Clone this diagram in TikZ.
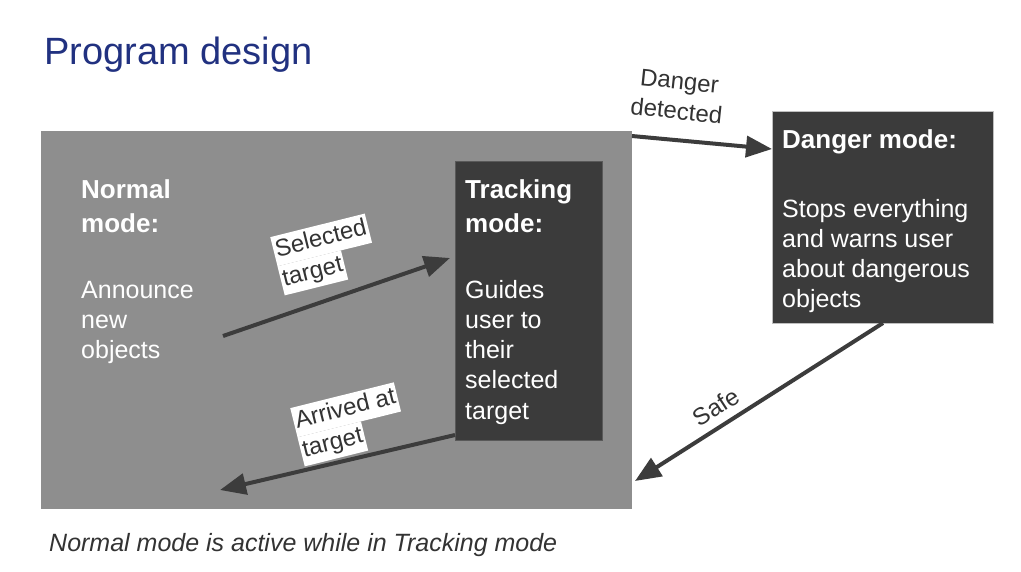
\documentclass[tikz,border=0pt]{standalone}
\usepackage{fontspec}
\setmainfont{Liberation Sans}
\usetikzlibrary{arrows.meta}
\definecolor{titleblue}{RGB}{33,49,128}
\definecolor{areagray}{RGB}{142,142,142}
\definecolor{boxdark}{RGB}{59,59,59}
\definecolor{arrowdark}{RGB}{60,60,60}
\definecolor{labeltext}{RGB}{51,51,51}
\newcommand\wbox[1]{{\setlength\fboxsep{0pt}\colorbox{white}{\hspace{2pt}\strut#1\hspace{2pt}}}}
\newcommand\blk[1]{\parbox[t]{220pt}{\raggedright #1}}
\tikzset{
  area/.style={fill=areagray, draw=none, inner sep=0},
  darkbox/.style={fill=boxdark, draw=black!65, line width=0.8pt, inner sep=0},
  hdr/.style={text=white, inner sep=0, anchor=base west, font=\fontsize{26}{34}\selectfont\bfseries},
  bodytxt/.style={text=white, inner sep=0, anchor=base west, font=\fontsize{25}{30.3}\selectfont},
  conn/.style={draw=arrowdark, line width=4pt, -{Triangle[length=26pt,width=21pt]}},
  wlabel/.style={text=labeltext, inner sep=0, align=left, font=\fontsize{24}{30}\selectfont},
  plabel/.style={text=labeltext, inner sep=0, align=center, font=\fontsize{24}{30}\selectfont}
}
\begin{document}
\begin{tikzpicture}[x=1pt,y=-1pt]
\useasboundingbox (0,0) rectangle (1021,571);
\fill[white] (0,0) rectangle (1021,571);

\node[anchor=base west, inner sep=0, text=titleblue, font=\fontsize{38}{44}\selectfont] (title) at (44,64) {Program design};

% normal mode area
\node[area, minimum width=591pt, minimum height=378pt] (nrm) at (336.5,320) {};
\node[hdr] (nrmhd) at (81,198) {\blk{Normal\\mode:}};
\node[bodytxt] (nrmbd) at (81,298) {\blk{Announce\\new\\objects}};

% tracking mode
\node[darkbox, minimum width=147pt, minimum height=279pt] (trk) at (528.5,300.5) {};
\node[hdr] (trkhd) at (465,198) {\blk{Tracking\\mode:}};
\node[bodytxt] (trkbd) at (465,298) {\blk{Guides\\user to\\their\\selected\\target}};

% danger mode
\node[darkbox, draw=black!25, minimum width=221pt, minimum height=212pt] (dng) at (882.5,217) {};
\node[hdr] (dnghd) at (782,148) {\blk{Danger mode:}};
\node[bodytxt] (dngbd) at (782,217) {\blk{Stops everything\\and warns user\\about dangerous\\objects}};

% connector end points
\coordinate (selA) at (223,336);
\coordinate (selB) at (450,258);
\coordinate (arrA) at (455,435);
\coordinate (arrB) at (220,490);
\coordinate (danA) at (632,136);
\coordinate (danB) at (772,149);
\coordinate (safA) at (883,323);
\coordinate (safB) at (635,481);

\draw[conn] (selA) -- (selB);
\draw[conn] (arrA) -- (arrB);
\draw[conn] (danA) -- (danB);
\draw[conn] (safA) -- (safB);

% labels
\node[wlabel, anchor=north west, rotate=14] (sellbl) at (270,237) {\wbox{Selected}\\\wbox{target}};
\node[wlabel, anchor=north west, rotate=14] (arrlbl) at (290,408) {\wbox{Arrived at}\\\wbox{target}};
\node[plabel, rotate=-6] (danlbl) at (678,96) {Danger\\detected};
\node[plabel, rotate=33] (saflbl) at (716,407) {Safe};

\node[anchor=base west, inner sep=0, text=labeltext, font=\fontsize{25}{30}\selectfont\itshape] (note) at (49,551) {Normal mode is active while in Tracking mode};
\end{tikzpicture}
\end{document}
